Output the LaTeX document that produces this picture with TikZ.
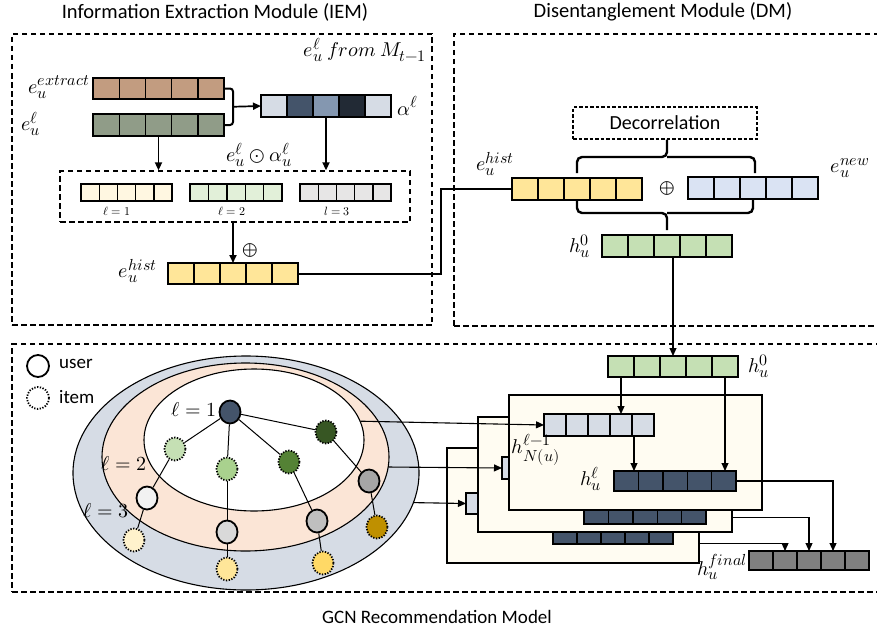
\documentclass[tikz,border=0pt]{standalone}
\usepackage{fontspec}
\usepackage{unicode-math}
\setmainfont{Carlito}
\DeclareMathSizes{20}{20}{16}{12}
\usetikzlibrary{arrows.meta,shapes.geometric,calc}
\definecolor{cbrown}{HTML}{C29C80}
\definecolor{cgg}{HTML}{909C88}
\definecolor{caA}{HTML}{D6DCE5}
\definecolor{caB}{HTML}{44546A}
\definecolor{caC}{HTML}{8497B0}
\definecolor{caD}{HTML}{222A35}
\definecolor{ccream}{HTML}{FFF7E1}
\definecolor{cgreenl}{HTML}{E2F0D9}
\definecolor{cgrayl}{HTML}{E7E6E6}
\definecolor{cyel}{HTML}{FFE699}
\definecolor{cblue}{HTML}{DAE3F3}
\definecolor{cgreen}{HTML}{C5E0B4}
\definecolor{cpanel}{HTML}{FFFCF2}
\definecolor{cdark}{HTML}{44546A}
\definecolor{cfin}{HTML}{808080}
\definecolor{cpeach}{HTML}{FBE5D6}
\definecolor{couter}{HTML}{D6DCE5}
\definecolor{nA}{HTML}{C5E0B4}
\definecolor{nB}{HTML}{A9D18E}
\definecolor{nC}{HTML}{548235}
\definecolor{nD}{HTML}{375623}
\definecolor{uA}{HTML}{F2F2F2}
\definecolor{uB}{HTML}{D9D9D9}
\definecolor{uC}{HTML}{BFBFBF}
\definecolor{uD}{HTML}{A6A6A6}
\definecolor{iA}{HTML}{FFF2CC}
\definecolor{iB}{HTML}{FFE699}
\definecolor{iC}{HTML}{FFD966}
\definecolor{iD}{HTML}{BF9000}

\tikzset{
  barframe/.style={inner sep=0pt, outer sep=0pt},
  cellbox/.style={draw, line width=1.4pt, inner sep=0pt, outer sep=0pt},
  lab/.style={inner sep=0pt, font=\fontsize{19}{22}\selectfont},
  titlelab/.style={inner sep=0pt, font=\fontsize{20.5}{24}\selectfont},
  mlab/.style={inner sep=0pt, font=\fontsize{20}{24}\selectfont},
  smalllab/.style={inner sep=0pt, font=\fontsize{12}{14}\selectfont},
  dashbox/.style={draw, line width=1.3pt, dash pattern=on 5.5pt off 3.5pt, inner sep=0pt},
  decbox/.style={draw, line width=1.1pt, dash pattern=on 3.5pt off 2pt, inner sep=0pt},
  arrA/.style={line width=1.7pt, -{Triangle[length=8pt,width=7pt]}},
  arrB/.style={line width=1.1pt, -{Triangle[length=8pt,width=7pt]}},
  thickline/.style={line width=2pt},
  braceline/.style={line width=2.4pt},
  panel/.style={draw, line width=1.3pt, fill=cpanel, inner sep=0pt},
  usernode/.style={ellipse, draw, line width=1.8pt, minimum width=21pt, minimum height=23pt, inner sep=0pt},
  itemnode/.style={ellipse, draw, line width=1.8pt, dash pattern=on 1.3pt off 1.5pt, minimum width=21pt, minimum height=23pt, inner sep=0pt},
  edge/.style={line width=1pt},
  ring/.style={ellipse, draw, line width=1.1pt, inner sep=0pt},
}

\newcommand{\vecbar}[6]{%
  \node[barframe, minimum width=5*#4pt, minimum height=#5pt, anchor=north west] (#1) at (#2,#3) {};
  \foreach \cc [count=\ii] in {#6} {
    \node[cellbox, fill=\cc, minimum width=#4pt, minimum height=#5pt, anchor=north west] (#1-\ii) at ({#2+(\ii-1)*#4},#3) {};
  }%
}

\begin{document}
\begin{tikzpicture}[x=1pt,y=-1pt]
\useasboundingbox (0,0) rectangle (877,634);
\fill[white] (0,0) rectangle (877,634);

% titles
\node[titlelab] (t1) at (215,12) {Information Extraction Module (IEM)};
\node[titlelab] (t2) at (663,12) {Disentanglement Module (DM)};
\node[lab] (t3) at (437,617) {GCN Recommendation Model};

% module frames (right edges run off the page)
\node[dashbox, minimum width=420pt, minimum height=291pt] (iem) at (222,179.5) {};
\node[dashbox, minimum width=440pt, minimum height=292pt] (dm) at (674,180) {};
\node[dashbox, minimum width=882pt, minimum height=248pt] (gcn) at (453,468) {};

% ---------------- IEM ----------------
\node[mlab] (lfrom) at (365,50) {$e_u^{\ell}\ from\ M_{t-1}$};
\vecbar{ext}{93}{78}{26.2}{21}{cbrown,cbrown,cbrown,cbrown,cbrown}
\vecbar{eg}{93}{114}{26.2}{22}{cgg,cgg,cgg,cgg,cgg}
\vecbar{al}{261}{95}{26}{22}{caA,caB,caC,caD,caA}
\node[mlab, anchor=east] (lext) at (90,87) {$e_u^{extract}$};
\node[mlab, anchor=west] (leg) at (21,124) {$e_u^{\ell}$};
\node[mlab, anchor=west] (lal) at (397,106) {$\alpha^{\ell}$};
\coordinate (brk) at ($(ext.east)!0.5!(eg.east)+(9,0)$);
\draw[thickline, rounded corners=3pt] (ext.east) -| (brk) |- (eg.east);
\draw[arrA] (brk) -- (al.west);

\node[dashbox, minimum width=350pt, minimum height=51pt] (ibox) at (235,196.5) {};
\draw[arrA] (eg-3.south) -- (eg-3.south |- ibox.north);
\draw[arrA] (al-3.south) -- (al-3.south |- ibox.north);
\node[mlab] (lmul) at (259,155) {$e_u^{\ell}\odot\alpha_u^{\ell}$};

\vecbar{bA}{81}{184}{18.2}{17}{ccream,ccream,ccream,ccream,ccream}
\vecbar{bB}{190}{184}{18.4}{17}{cgreenl,cgreenl,cgreenl,cgreenl,cgreenl}
\vecbar{bC}{300}{184}{18.2}{17}{cgrayl,cgrayl,cgrayl,cgrayl,cgrayl}
\node[smalllab] (lb1) at (117,211) {$\ell=1$};
\node[smalllab] (lb2) at (232,211) {$\ell=2$};
\node[smalllab] (lb3) at (337,211) {$l=3$};

\vecbar{hA}{168}{263}{26}{21}{cyel,cyel,cyel,cyel,cyel}
\draw[arrA] (hA-3.north |- ibox.south) -- (hA-3.north);
\node[mlab] (lplus1) at (250,250) {$\oplus$};
\node[mlab, anchor=east] (lhA) at (157,271) {$e_u^{hist}$};

% ---------------- DM ----------------
\vecbar{hB}{512}{178}{26}{22}{cyel,cyel,cyel,cyel,cyel}
\vecbar{nw}{688}{177}{26}{22}{cblue,cblue,cblue,cblue,cblue}
\node[mlab] (lhB) at (495,164) {$e_u^{hist}$};
\node[mlab] (lnw) at (850,168) {$e_u^{new}$};
\node[mlab] (lplus2) at (667,188) {$\oplus$};
\coordinate (bend) at (441,0);
\draw[thickline] (hA.east) -| (bend |- hB.west) -- (hB.west);

\node[decbox, minimum width=184pt, minimum height=32pt, font=\fontsize{20}{23}\selectfont] (dec) at (665,123) {Decorrelation};
\coordinate (btop) at (667,157);
\draw[braceline, rounded corners=5pt] (577,173) |- (btop) -- (dec.south -| btop);
\draw[braceline, rounded corners=5pt] (755,173) |- (btop);
\coordinate (bbot) at (667,213);
\draw[braceline, rounded corners=5pt] (577,200) |- (bbot) -- (667,230);
\draw[braceline, rounded corners=5pt] (753,200) |- (bbot);

\vecbar{hzd}{602}{235}{26}{22}{cgreen,cgreen,cgreen,cgreen,cgreen}
\node[mlab] (lhzd) at (580,246) {$h_u^{0}$};

% ---------------- GCN ----------------
\vecbar{hzg}{608}{356}{26}{21}{cgreen,cgreen,cgreen,cgreen,cgreen}
\node[mlab] (lhzg) at (759,366) {$h_u^{0}$};
\draw[arrB] (hzd.south -| hzg.north) -- (hzg.north);

% panels
\node[panel, minimum width=252pt, minimum height=115pt] (pback) at (573,505.5) {};
\vecbar{bbl}{466}{493}{22}{21}{caA,caA,caA,caA,caA}
\vecbar{bdb}{553}{524}{24}{20}{cdark,cdark,cdark,cdark,cdark}
\node[panel, minimum width=254pt, minimum height=115pt] (pmid) at (605,474.5) {};
\vecbar{mbl}{502}{457}{22}{22}{caA,caA,caA,caA,caA}
\vecbar{mdb}{584}{504}{24.4}{20}{cdark,cdark,cdark,cdark,cdark}
\node[panel, minimum width=253pt, minimum height=115pt] (pfront) at (635.5,452.5) {};
\vecbar{fbl}{544}{414}{22}{22}{caA,caA,caA,caA,caA}
\vecbar{fdb}{614}{471}{24.4}{20}{cdark,cdark,cdark,cdark,cdark}
\node[mlab] (lfbl) at (536,450) {$h_{N(u)}^{\ell-1}$};
\node[mlab] (lfdb) at (591,479) {$h_u^{\ell}$};

\draw[arrB] (hzg-1.south) -- (hzg-1.south |- fbl.north);
\draw[arrB] (hzg-5.south) -- (hzg-5.south |- fdb.north);
\draw[arrB] ([xshift=-9pt]fbl-5.south) -- ([xshift=-9pt]fbl-5.south |- fdb.north);

\vecbar{fin}{749}{551}{24}{19}{cfin,cfin,cfin,cfin,cfin}
\node[mlab] (lfin) at (722,567) {$h_u^{final}$};
\draw[arrB] (fdb.east) -| (fin-4.north);
\draw[arrB] ([yshift=15pt]pmid.south east) -| (fin-3.north);
\draw[arrB] ([yshift=20pt]pback.south east) -| (fin-2.north);

% graph
\node[ring, fill=couter, minimum width=346pt, minimum height=234pt] (outer) at (246,473) {};
\node[ring, fill=cpeach, minimum width=287pt, minimum height=188pt] (middle) at (245.5,457) {};
\node[ring, fill=white, minimum width=220pt, minimum height=142pt] (inner) at (254,440) {};

\node[mlab] (ll1) at (194,410) {$\ell=1$};
\node[mlab] (ll2) at (124,464) {$\ell=2$};
\node[mlab] (ll3) at (106,511) {$\ell=3$};

\node[usernode, fill=cdark] (u0) at (230,412) {};
\node[itemnode, fill=nA] (i1) at (175,449) {};
\node[itemnode, fill=nB] (i2) at (227,469) {};
\node[itemnode, fill=nC] (i3) at (289,462) {};
\node[itemnode, fill=nD] (i4) at (326,432) {};
\node[usernode, fill=uA] (u1) at (147,498) {};
\node[usernode, fill=uB] (u2) at (227,532) {};
\node[usernode, fill=uC] (u3) at (317,521) {};
\node[usernode, fill=uD] (u4) at (369,481) {};
\node[itemnode, fill=iA] (j1) at (134,540) {};
\node[itemnode, fill=iB] (j2) at (227,569) {};
\node[itemnode, fill=iC] (j3) at (323,563) {};
\node[itemnode, fill=iD] (j4) at (377,527) {};
\foreach \a/\b in {u0/i1,u0/i2,u0/i3,u0/i4,i1/u1,u1/j1,i2/u2,u2/j2,i3/u3,u3/j3,i4/u4,u4/j4}
  \draw[edge] (\a) -- (\b);

\draw[arrB] (inner.10) -- (fbl.west);
\draw[arrB] (middle.-4) -- (mbl.west);
\draw[arrB] (outer.-10) -- (bbl.west);

% legend
\node[usernode, minimum width=22pt, minimum height=22pt] (legu) at (38,366) {};
\node[itemnode, minimum width=22pt, minimum height=22pt] (legi) at (38,398) {};
\node[lab, anchor=west] (legut) at (59,364) {user};
\node[lab, anchor=west] (legit) at (59,397) {item};
\end{tikzpicture}
\end{document}
